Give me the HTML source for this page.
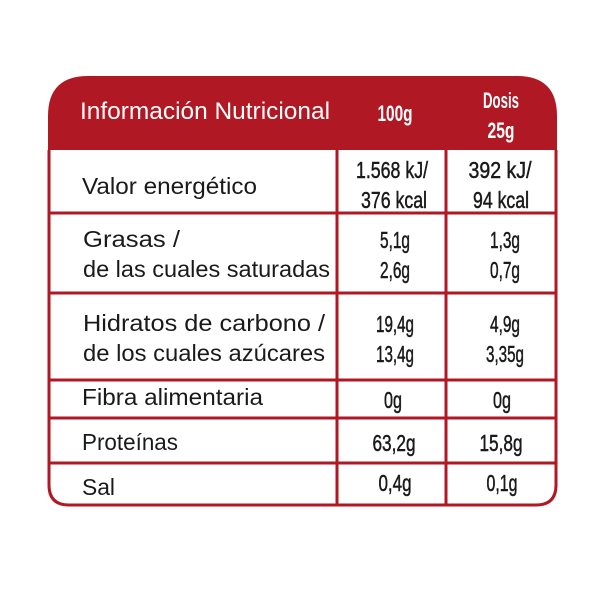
<!DOCTYPE html>
<html><head><meta charset="utf-8"><style>html,body{margin:0;padding:0;background:#fff}svg{display:block}</style></head>
<body>
<svg width="600" height="600" viewBox="0 0 600 600" xmlns="http://www.w3.org/2000/svg">
<path d="M48 150 V116 Q48 76 88 76 H517 Q557 76 557 116 V150 Z" fill="#b01824"/>
<path d="M49 150 V485 Q49 505 69 505 H536 Q556 505 556 485 V150" fill="none" stroke="#b01824" stroke-width="3"/>
<g stroke="#b01824" stroke-width="3">
<line x1="337" y1="150" x2="337" y2="505"/>
<line x1="446" y1="150" x2="446" y2="505"/>
<line x1="49" y1="213" x2="556" y2="213"/>
<line x1="49" y1="293" x2="556" y2="293"/>
<line x1="49" y1="380" x2="556" y2="380"/>
<line x1="49" y1="418" x2="556" y2="418"/>
<line x1="49" y1="463" x2="556" y2="463"/>
</g>
<g font-family="Liberation Sans, sans-serif" font-size="24" fill="#fff">
<text x="80" y="119" textLength="250" lengthAdjust="spacingAndGlyphs">Información Nutricional</text>
</g>
<g font-family="Liberation Sans, sans-serif" font-size="22" font-weight="bold" fill="#fff" text-anchor="middle">
<text x="395" y="121" textLength="35" lengthAdjust="spacingAndGlyphs">100g</text>
<text x="501" y="108" textLength="36" lengthAdjust="spacingAndGlyphs">Dosis</text>
<text x="501" y="138" textLength="27" lengthAdjust="spacingAndGlyphs">25g</text>
</g>
<g font-family="Liberation Sans, sans-serif" font-size="23" fill="#1a1a1a">
<text x="82" y="194" textLength="175" lengthAdjust="spacingAndGlyphs">Valor energético</text>
<text x="83" y="247" textLength="97" lengthAdjust="spacingAndGlyphs">Grasas /</text>
<text x="83" y="277" textLength="247" lengthAdjust="spacingAndGlyphs">de las cuales saturadas</text>
<text x="83" y="331" textLength="242" lengthAdjust="spacingAndGlyphs">Hidratos de carbono /</text>
<text x="83" y="361" textLength="242" lengthAdjust="spacingAndGlyphs">de los cuales azúcares</text>
<text x="82" y="405" textLength="181" lengthAdjust="spacingAndGlyphs">Fibra alimentaria</text>
<text x="82" y="450" textLength="96" lengthAdjust="spacingAndGlyphs">Proteínas</text>
<text x="82" y="495" textLength="33" lengthAdjust="spacingAndGlyphs">Sal</text>
</g>
<g font-family="Liberation Sans, sans-serif" font-size="23" fill="#1a1a1a" stroke="#1a1a1a" stroke-width="0.5" text-anchor="middle">
<text x="392" y="178" textLength="72" lengthAdjust="spacingAndGlyphs">1.568 kJ/</text>
<text x="394" y="208" textLength="66" lengthAdjust="spacingAndGlyphs">376 kcal</text>
<text x="500" y="178" textLength="63" lengthAdjust="spacingAndGlyphs">392 kJ/</text>
<text x="501" y="208" textLength="56" lengthAdjust="spacingAndGlyphs">94 kcal</text>
<text x="395" y="248" textLength="30" lengthAdjust="spacingAndGlyphs">5,1g</text>
<text x="395" y="278" textLength="30" lengthAdjust="spacingAndGlyphs">2,6g</text>
<text x="505" y="248" textLength="30" lengthAdjust="spacingAndGlyphs">1,3g</text>
<text x="505" y="278" textLength="30" lengthAdjust="spacingAndGlyphs">0,7g</text>
<text x="395" y="332" textLength="38" lengthAdjust="spacingAndGlyphs">19,4g</text>
<text x="395" y="362" textLength="38" lengthAdjust="spacingAndGlyphs">13,4g</text>
<text x="505" y="332" textLength="30" lengthAdjust="spacingAndGlyphs">4,9g</text>
<text x="505" y="362" textLength="38" lengthAdjust="spacingAndGlyphs">3,35g</text>
<text x="393" y="408" textLength="18" lengthAdjust="spacingAndGlyphs">0g</text>
<text x="502" y="408" textLength="18" lengthAdjust="spacingAndGlyphs">0g</text>
<text x="394" y="451" textLength="43" lengthAdjust="spacingAndGlyphs">63,2g</text>
<text x="501" y="451" textLength="43" lengthAdjust="spacingAndGlyphs">15,8g</text>
<text x="395" y="491" textLength="33" lengthAdjust="spacingAndGlyphs">0,4g</text>
<text x="502" y="491" textLength="31" lengthAdjust="spacingAndGlyphs">0,1g</text>
</g>
</svg>
</body></html>
